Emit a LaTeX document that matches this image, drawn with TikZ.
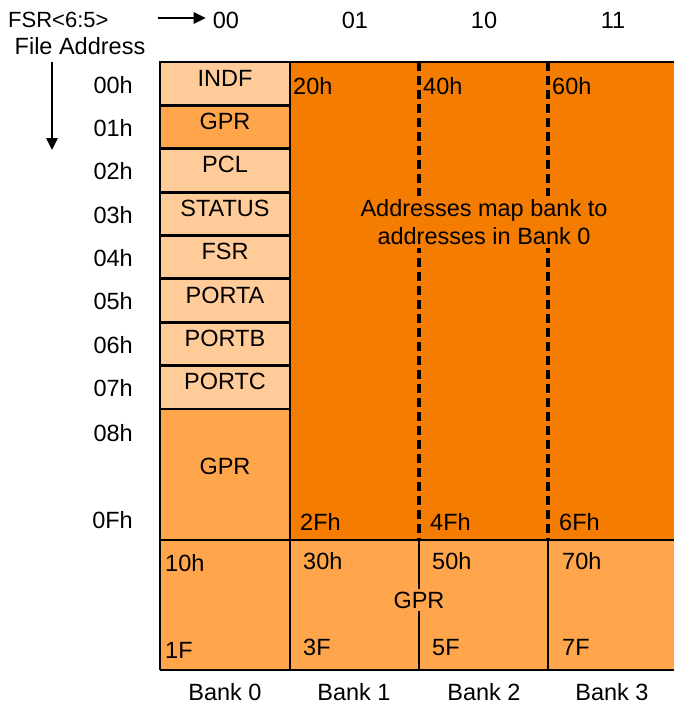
\documentclass[tikz,border=0pt]{standalone}
\usepackage{fontspec}
\setmainfont{Liberation Sans}
\usetikzlibrary{arrows.meta}
\definecolor{sfrpeach}{RGB}{255,204,153}
\definecolor{gprorange}{RGB}{255,166,77}
\definecolor{bankorange}{RGB}{244,124,0}
\begin{document}
\begin{tikzpicture}[x=1pt,y=-1pt,
    every node/.style={font=\fontsize{23.5}{27.5}\selectfont, inner sep=1pt,
      text height=16.8pt, text depth=0pt},
    sfr/.style={draw, line width=2.8pt, fill=sfrpeach, minimum width=130pt,
      minimum height=43.375pt, text depth=12pt},
    gpr/.style={sfr, fill=gprorange},
    border/.style={line width=2.8pt},
    mirror/.style={line width=3.6pt, dash pattern=on 9pt off 5pt},
    pointer/.style={line width=2.6pt, -{Triangle[length=12pt,width=11pt]}}]
    \useasboundingbox (0,0) rectangle (674,707);
    % Mirrored area and common GPR area
    \fill[bankorange] (290,62) rectangle (674,540);
    \fill[gprorange] (160,540) rectangle (674,670);
    % Bank 0 special function registers
    \node[sfr] (indf)   at (225,83.7)  {INDF};
    \node[gpr] (gprone) at (225,127.1) {GPR};
    \node[sfr] (pcl)    at (225,170.4) {PCL};
    \node[sfr] (status) at (225,213.8) {STATUS};
    \node[sfr] (fsr)    at (225,257.2) {FSR};
    \node[sfr] (porta)  at (225,300.6) {PORTA};
    \node[sfr] (portb)  at (225,343.9) {PORTB};
    \node[sfr] (portc)  at (225,387.3) {PORTC};
    \node[gpr, minimum height=131pt, text depth=17pt] (gprlow) at (225,474.5) {GPR};
    % Dashed bank boundaries
    \draw[mirror] (419,62) -- (419,540);
    \draw[mirror] (548,62) -- (548,540);
    \node[fill=bankorange, align=center, inner sep=4pt, text height=, text depth=]
      (mapnote) at (484,222) {Addresses map bank to\\addresses in Bank 0};
    % Frame
    \draw[border] (160,62) -- (674,62);
    \draw[border] (160,540) -- (674,540);
    \draw[border] (160,670) -- (674,670);
    \draw[border] (160,62) -- (160,670);
    \draw[border] (290,62) -- (290,670);
    \draw[border] (419,540) -- (419,670);
    \draw[border] (548,540) -- (548,670);
    \node[fill=gprorange, inner sep=3pt] (gprshared) at (419,600) {GPR};
    % Start and end addresses
    \node[anchor=west] (a20) at (292,86) {20h};
    \node[anchor=west] (a40) at (422,86) {40h};
    \node[anchor=west] (a60) at (551,86) {60h};
    \node[anchor=west] (a2f) at (299,522) {2Fh};
    \node[anchor=west] (a4f) at (429,522) {4Fh};
    \node[anchor=west] (a6f) at (558,522) {6Fh};
    \node[anchor=west] (a10) at (164,563) {10h};
    \node[anchor=west] (a30) at (302,561) {30h};
    \node[anchor=west] (a50) at (431,561) {50h};
    \node[anchor=west] (a70) at (561,561) {70h};
    \node[anchor=west] (a1f) at (164,650) {1F};
    \node[anchor=west] (a3f) at (302,647) {3F};
    \node[anchor=west] (a5f) at (431,647) {5F};
    \node[anchor=west] (a7f) at (561,647) {7F};
    % File addresses
    \node[anchor=east] (f00) at (134,85)  {00h};
    \node[anchor=east] (f01) at (134,128) {01h};
    \node[anchor=east] (f02) at (134,171) {02h};
    \node[anchor=east] (f03) at (134,215) {03h};
    \node[anchor=east] (f04) at (134,258) {04h};
    \node[anchor=east] (f05) at (134,301) {05h};
    \node[anchor=east] (f06) at (134,345) {06h};
    \node[anchor=east] (f07) at (134,388) {07h};
    \node[anchor=east] (f08) at (134,433) {08h};
    \node[anchor=east] (f0f) at (134,520) {0Fh};
    % Bank select bits
    \node[anchor=west, font=\fontsize{22}{26}\selectfont] (fsrbits) at (7,19) {FSR<6:5>};
    \node (b00) at (226,20) {00};
    \node (b01) at (355,20) {01};
    \node (b10) at (484,20) {10};
    \node (b11) at (613,20) {11};
    \coordinate (fsrtail) at (158,18);
    \draw[pointer, shorten >=6pt] (fsrtail) -- (b00.west |- fsrtail);
    \node (fileaddr) at (80,46) {File Address};
    \coordinate (addrtop) at (52,62);
    \coordinate (addrbot) at (52,150);
    \draw[pointer] (addrtop) -- (addrbot);
    % Bank names
    \node (bank0) at (225,692) {Bank 0};
    \node (bank1) at (354,692) {Bank 1};
    \node (bank2) at (484,692) {Bank 2};
    \node (bank3) at (612,692) {Bank 3};
\end{tikzpicture}
\end{document}
